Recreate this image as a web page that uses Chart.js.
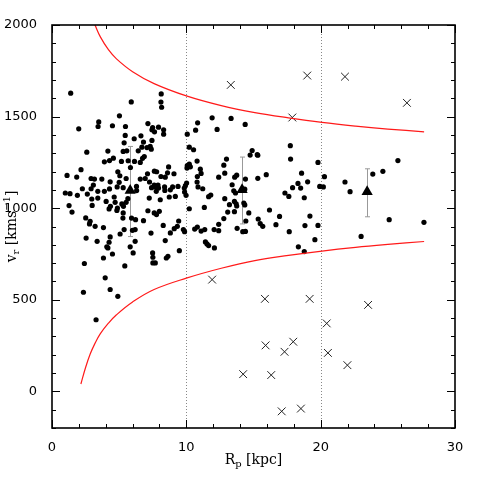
<!DOCTYPE html>
<html>
<head>
<meta charset="utf-8">
<script src="https://cdn.jsdelivr.net/npm/chart.js@4.4.1/dist/chart.umd.min.js"></script>
<style>
  body { margin: 0; background: #fff; }
  canvas { display: block; }
</style>
</head>
<body>
<canvas id="chart" width="480" height="480"></canvas>
<script>
// tick positions
var xTicks = [0, 10, 20, 30];
var yTicks = [0, 500, 1000, 1500, 2000];
var dividers = [10, 20];

// escape velocity envelope
var upperR = [3.2, 3.6, 4.2, 4.8, 6.0, 7.6, 10, 12.6, 15.1, 17.6, 20.1, 22.6, 25, 27.7];
var upperV = [2000, 1935, 1865, 1815, 1745, 1680, 1613, 1560, 1522, 1493, 1468, 1448, 1432, 1417];
var lowerR = [2.15, 2.5, 2.85, 3.2, 3.6, 4.2, 4.8, 6.0, 7.6, 10, 12.6, 15.1, 17.6, 20.1, 22.6, 25, 27.7];
var lowerV = [40, 130, 205, 262, 315, 372, 418, 488, 556, 618, 672, 714, 742, 766, 786, 802, 818];

// members (R_p, v_r)
var members = [
  [1.39,1628],[5.9,1580],[5.02,1504],[3.48,1471],[3.43,1446],[4.5,1450],[5.47,1446],[1.99,1433],[7.14,1462],[7.44,1428],
  [5.45,1397],[6.62,1395],[6.12,1379],[6.81,1361],[7.44,1370],[5.37,1357],[2.59,1306],[4.16,1312],[5.3,1310],[5.57,1313],
  [6.69,1333],[7.07,1331],[6.42,1313],[6.74,1272],[3.9,1253],[4.28,1260],[4.57,1273],[5.17,1255],[5.67,1259],[6.14,1255],
  [6.57,1250],[2.16,1210],[5.84,1222],[1.12,1179],[1.84,1170],[2.91,1162],[3.16,1159],[3.71,1159],[4.9,1199],[5.05,1177],
  [5.52,1162],[6.57,1159],[6.94,1162],[4.33,1144],[3.08,1126],[2.26,1106],[2.91,1106],[4.28,1105],[4.85,1116],[6.29,1119],
  [7.41,1112],[7.61,1126],[8.13,1624],[8.11,1579],[8.16,1551],[7.49,1440],[7.63,1417],[7.93,1442],[8.31,1428],[8.31,1404],
  [7.31,1337],[7.39,1322],[6.87,1282],[8.11,1173],[7.89,1126],[7.11,1188],[10.07,1404],[10.84,1466],[10.69,1426],[11.92,1493],
  [12.29,1430],[13.33,1490],[14.38,1457],[10.22,1333],[10.54,1319],[10.8,1257],[10.07,1232],[10.22,1240],[10.05,1219],[11.04,1213],
  [10.82,1173],[12.99,1268],[12.79,1235],[12.86,1191],[12.41,1169],[13.6,1169],[13.75,1180],[14.9,1315],[14.75,1290],[14.4,1159],
  [7.79,1199],[8.43,1169],[8.6,1193],[8.68,1225],[9.08,1188],[8.38,1116],[8.98,1116],[9.38,1119],[9.93,1123],[10.02,1137],
  [10.87,1116],[11.22,1106],[7.69,1116],[7.62,1202],[11.1,1190],[10.8,1143],[11.66,1063],[11.82,1072],
  [15.32,1289],[17.74,1341],[17.76,1268],[19.8,1250],[15.32,1163],[15.95,1183],[18.58,1191],[20.28,1172],[19.03,1144],[18.31,1135],
  [17.91,1112],[18.51,1110],[19.93,1119],[20.2,1116],[21.81,1143],[15.28,1292],
  [25.75,1260],[24.63,1201],[23.88,1186],[25.1,937],[27.69,923],[23.01,846],
  [17.34,1083],[17.63,1064],[18.78,1057],[22.19,1090],[16.19,990],[16.94,955],[15.35,941],[15.5,916],[15.69,901],[16.67,910],
  [19.2,957],[18.83,905],[19.8,906],[17.66,872],[19.57,828],[18.34,789],[18.78,763],
  [8.4,1097],[8.73,1061],[9.18,1064],[9.98,1070],[12.86,1052],[13.21,1019],[13.58,1037],[13.71,1024],[13.75,1012],[14.28,1028],
  [14.35,1018],[7.99,983],[7.78,965],[10.22,997],[11.34,1004],[13.08,979],[13.58,981],[14.65,974],[12.79,943],[12.41,912],
  [12.07,883],[8.28,906],[8.81,865],[9.33,901],[9.43,930],[9.78,883],[9.87,872],[10.62,886],[10.82,897],[11.1,875],
  [14.4,873],[14.2,872],[8.43,823],[11.42,816],[11.54,805],[11.66,796],[12.09,783],[9.48,768],[8.51,728],[8.63,737],[7.69,701],
  [0.99,1083],[1.34,1079],[1.89,1070],[1.27,1014],[1.49,979],[2.63,1077],[2.96,1050],[3.41,1092],[2.51,947],[2.79,914],
  [3.21,901],[2.99,1015],[3.83,894],[4.03,1037],[4.35,1010],[4.25,996],[4.63,1061],[5.0,1141],[5.3,974],[5.28,946],
  [5.37,883],[5.52,1032],[5.65,1052],[5.92,946],[6.22,937],[6.19,883],[5.99,879],[6.81,932],[7.14,986],[7.26,1143],
  [7.24,1055],[7.93,1110],[7.76,1092],[8.06,1046],[9.1,888],[9.85,1110],[9.87,1088],[10.3,1226],[11.37,883],[12.41,877],[13.78,890],
  [3.9,1092],[3.41,1055],[4.7,1032],[5.2,1023],[5.32,1010],[4.87,1001],[4.83,988],[7.61,974],[2.84,928],[5.07,859],
  [7.37,864],[2.54,837],[3.36,819],[4.33,843],[4.25,814],[4.08,789],[4.16,783],[4.5,750],[3.83,728],[5.82,789],
  [6.04,756],[7.49,756],[7.51,732],[7.51,701],[5.42,685],[2.41,698],[3.96,620],[4.33,556],[2.34,541],[4.9,519],
  [3.28,391],[6.19,819],[14.43,930],[5.3,1112],[6.3,1096],[14.35,1104],[13.53,1095],[13.66,1083],[13.41,1128],[8.81,1100]
];

// non-members (crosses)
var outliers = [
  [13.31,1673],[19.0,1724],[21.81,1718],[26.42,1575],[17.89,1495],[11.92,610],[15.85,505],[19.18,505],[23.53,472],[20.45,371],
  [15.9,251],[17.31,216],[17.96,271],[20.54,210],[21.99,143],[14.23,94],[16.32,89],[17.1,-109],[18.53,-94]
];

// binned means with error bars
var binR = [5.82, 14.15, 23.46];
var binV = [1097, 1100, 1090];
var binLo = [845, 914, 953];
var binHi = [1337, 1279, 1215];

function pts(rs, vs) {
  return rs.map(function(r, i){ return {x: r, y: vs[i]}; });
}
function pairs(list) {
  return list.map(function(p){ return {x: p[0], y: p[1]}; });
}

var framePlugin = {
  id: 'frame',
  beforeDatasetsDraw: function(chart) {
    var ctx = chart.ctx, a = chart.chartArea;
    var xs = chart.scales.x, ys = chart.scales.y;
    ctx.save();
    ctx.strokeStyle = '#888';
    ctx.lineWidth = 1;
    ctx.setLineDash([1, 2]);
    dividers.forEach(function(d){
      var px = Math.round(xs.getPixelForValue(d)) + 0.5;
      ctx.beginPath(); ctx.moveTo(px, a.top); ctx.lineTo(px, a.bottom); ctx.stroke();
    });
    ctx.setLineDash([]);
    ctx.strokeStyle = '#999';
    binR.forEach(function(r, i){
      var px = Math.round(xs.getPixelForValue(r)) + 0.5;
      var y1 = ys.getPixelForValue(binLo[i]), y2 = ys.getPixelForValue(binHi[i]);
      ctx.beginPath();
      ctx.moveTo(px, y1); ctx.lineTo(px, y2);
      ctx.moveTo(px - 2.5, y1); ctx.lineTo(px + 2.5, y1);
      ctx.moveTo(px - 2.5, y2); ctx.lineTo(px + 2.5, y2);
      ctx.stroke();
    });
    ctx.restore();
  },
  afterDatasetsDraw: function(chart) {
    var ctx = chart.ctx, a = chart.chartArea;
    var xs = chart.scales.x, ys = chart.scales.y;
    ctx.save();
    ctx.strokeStyle = '#000';
    ctx.lineWidth = 1;
    ctx.beginPath();
    var v, px, len;
    for (v = 0; v <= 30; v += 2) {
      px = Math.round(xs.getPixelForValue(v)) + 0.5;
      len = (v % 10 === 0) ? 8 : 4;
      ctx.moveTo(px, a.bottom); ctx.lineTo(px, a.bottom - len);
      ctx.moveTo(px, a.top); ctx.lineTo(px, a.top + len);
    }
    for (v = -200; v <= 2000; v += 100) {
      px = Math.round(ys.getPixelForValue(v)) + 0.5;
      len = (v % 500 === 0) ? 8 : 4;
      ctx.moveTo(a.left, px); ctx.lineTo(a.left + len, px);
      ctx.moveTo(a.right, px); ctx.lineTo(a.right - len, px);
    }
    ctx.stroke();
    ctx.lineWidth = 1.6;
    ctx.strokeRect(a.left, a.top, a.right - a.left, a.bottom - a.top);
    ctx.restore();
  },
  afterDraw: function(chart) {
    var ctx = chart.ctx, a = chart.chartArea;
    var big = '14px "DejaVu Serif"', small = '10px "DejaVu Serif"';
    ctx.save();
    ctx.fillStyle = '#000';
    ctx.textBaseline = 'alphabetic';
    ctx.textAlign = 'left';
    // x title: R_p [kpc]
    ctx.font = big; var w1 = ctx.measureText('R').width, w3 = ctx.measureText(' [kpc]').width;
    ctx.font = small; var w2 = ctx.measureText('p').width;
    var x0 = (a.left + a.right) / 2 - (w1 + w2 + w3) / 2, by = 464;
    ctx.font = big; ctx.fillText('R', x0, by);
    ctx.font = small; ctx.fillText('p', x0 + w1, by + 3);
    ctx.font = big; ctx.fillText(' [kpc]', x0 + w1 + w2, by);
    // y title: v_r [kms^-1]
    ctx.translate(16, (a.top + a.bottom) / 2);
    ctx.rotate(-Math.PI / 2);
    ctx.font = big; var a1 = ctx.measureText('v').width, a3 = ctx.measureText(' [kms').width, a5 = ctx.measureText(']').width;
    ctx.font = small; var a2 = ctx.measureText('r').width, a4 = ctx.measureText('\u22121').width;
    var s = -(a1 + a2 + a3 + a4 + a5) / 2;
    ctx.font = big; ctx.fillText('v', s, 0);
    ctx.font = small; ctx.fillText('r', s + a1, 3);
    ctx.font = big; ctx.fillText(' [kms', s + a1 + a2, 0);
    ctx.font = small; ctx.fillText('\u22121', s + a1 + a2 + a3, -6);
    ctx.font = big; ctx.fillText(']', s + a1 + a2 + a3 + a4, 0);
    ctx.restore();
  }
};

new Chart(document.getElementById('chart'), {
  type: 'scatter',
  data: {
    datasets: [
      { data: pts(upperR, upperV), showLine: true, pointRadius: 0, borderColor: '#ff1a1a', borderWidth: 1.2, tension: 0.4, fill: false },
      { data: pts(lowerR, lowerV), showLine: true, pointRadius: 0, borderColor: '#ff1a1a', borderWidth: 1.2, tension: 0.4, fill: false },
      { data: pairs(members), pointStyle: 'circle', pointRadius: 2.6, backgroundColor: '#000', borderWidth: 0 },
      { data: pairs(outliers), pointStyle: 'crossRot', pointRadius: 5.5, borderColor: '#222', borderWidth: 1 },
      { data: pts(binR, binV), pointStyle: 'triangle', pointRadius: 6.5, backgroundColor: '#000', borderColor: '#000', borderWidth: 0 }
    ]
  },
  options: {
    responsive: false,
    animation: false,
    devicePixelRatio: 1,
    layout: { padding: { top: 25, right: 25, left: 0, bottom: 0 } },
    plugins: { legend: { display: false }, tooltip: { enabled: false } },
    scales: {
      x: {
        type: 'linear', min: 0, max: 30,
        afterBuildTicks: function(s){ s.ticks = xTicks.map(function(v){ return {value: v}; }); },
        afterFit: function(s){ s.height = 52; },
        grid: { display: false },
        border: { display: false },
        ticks: { color: '#000', padding: 4, maxRotation: 0, font: { family: 'DejaVu Sans', size: 13 },
                 callback: function(v){ return String(v); } }
      },
      y: {
        type: 'linear', min: -200, max: 2000,
        afterBuildTicks: function(s){ s.ticks = yTicks.map(function(v){ return {value: v}; }); },
        afterFit: function(s){ s.width = 52; },
        grid: { display: false },
        border: { display: false },
        ticks: { color: '#000', padding: 7, font: { family: 'DejaVu Sans', size: 13 },
                 callback: function(v){ return String(v); } }
      }
    }
  },
  plugins: [framePlugin]
});
</script>
</body>
</html>
